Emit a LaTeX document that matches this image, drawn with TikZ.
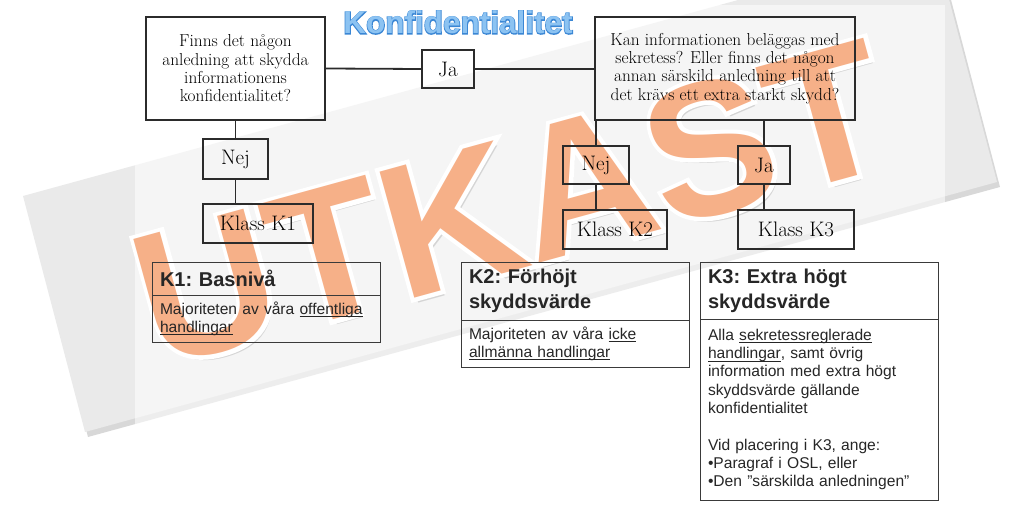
\documentclass[tikz,border=0pt]{standalone}
\usepackage{fontspec}
\newfontfamily\arialf{Liberation Sans}
\newfontfamily\wmhalo{Liberation Sans Bold}[FakeBold=4.5]
\newfontfamily\wmfill{Liberation Sans Bold}
\newfontfamily\titlehalo{Liberation Sans Bold}[FakeBold=5]
\newfontfamily\titlefillf{Liberation Sans Bold}
\definecolor{wmorange}{HTML}{F6B088}
\definecolor{titlefill}{HTML}{8CC3F2}
\definecolor{titleline}{HTML}{3A86D4}
\definecolor{boxline}{HTML}{2B2B2B}
\definecolor{infoline}{HTML}{3A3A3A}
\definecolor{bodytext}{HTML}{262626}
\definecolor{papergray}{HTML}{EAEAEA}
\newcommand{\myul}[1]{\leavevmode\vtop{\hbox{\smash{#1}}\kern2pt\hrule height0.9pt}}
\begin{document}
\begin{tikzpicture}[x=1pt,y=-1pt,
 flow/.style={draw=boxline, line width=1.8pt, inner sep=0pt, align=center, font=\fontsize{17.3}{18.3}\selectfont},
 lbl/.style={draw=boxline, line width=1.8pt, inner sep=0pt, font=\fontsize{21}{22}\selectfont},
 link/.style={draw=boxline, line width=1.8pt},
 infohead/.style={draw=infoline, line width=0.9pt, inner sep=0pt, align=left, text=bodytext, font=\arialf\bfseries\frenchspacing\fontsize{20}{25}\selectfont},
 infobody/.style={draw=infoline, line width=0.9pt, inner sep=0pt, align=left, text=bodytext, font=\arialf\frenchspacing\fontsize{15.6}{18.3}\selectfont},
 wmtext/.style={rotate=15.4, inner sep=0pt},
 wmsize/.style={font=#1\fontsize{190}{190}\selectfont},
 titletext/.style={inner sep=0pt, font=#1\fontsize{31.5}{32}\selectfont},
]
\useasboundingbox (0,0) rectangle (1013,521);
% tilted paper
\fill[black!30, opacity=0.5] (26,200) -- (88,437) -- (1000,187) -- (938,-50) -- cycle;
\fill[papergray] (23,196) -- (85,432) -- (997,182) -- (935,-54) -- cycle;
\fill[white, opacity=0.55] (135,5) rectangle (945,521);
% watermark
\node[wmtext, wmsize=\wmfill, text=black!40, opacity=0.35] (wmshadow) at (516,208) {UTKAST};
\node[wmtext, wmsize=\wmhalo, text=white] (wmhalo) at (512,203) {UTKAST};
\node[wmtext, wmsize=\wmfill, text=wmorange] (wm) at (512,203) {UTKAST};
% title
\node[titletext=\titlehalo, text=titleline] (titleoutline) at (458,22.5) {Konfidentialitet};
\node[titletext=\titlefillf, text=titlefill] (title) at (458,22.5) {Konfidentialitet};
% flow boxes
\node[flow, minimum width=179pt, minimum height=103pt] (q1) at (235.5,68.5) {Finns det någon\\anledning att skydda\\informationens\\konfidentialitet?};
\node[lbl, minimum width=52pt, minimum height=38pt] (ja1) at (448,69) {Ja};
\node[flow, minimum width=260pt, minimum height=103pt] (q2) at (725,68.5) {Kan informationen beläggas med\\sekretess? Eller finns det någon\\annan särskild anledning till att\\det krävs ett extra starkt skydd?};
\node[lbl, minimum width=65pt, minimum height=40pt] (nej1) at (235.5,159) {Nej};
\node[lbl, minimum width=110pt, minimum height=39pt] (k1) at (258,223.5) {Klass K1};
\node[lbl, minimum width=66pt, minimum height=38pt] (nej2) at (596,165) {Nej};
\node[lbl, minimum width=104pt, minimum height=39pt] (k2) at (615,229.5) {Klass K2};
\node[lbl, minimum width=52pt, minimum height=38pt] (ja2) at (764,165) {Ja};
\node[lbl, minimum width=116pt, minimum height=39pt] (k3) at (796,229.5) {Klass K3};
% connectors
\draw[link] (q1.east) -- (ja1.west);
\draw[link] (ja1.east) -- (ja1.east -| q2.west);
\draw[link] (q1.south) -- (nej1.north);
\draw[link] (nej1.south) -- (nej1.south |- k1.north);
\draw[link] (nej2.north) -- (nej2.north |- q2.south);
\draw[link] (nej2.south) -- (nej2.south |- k2.north);
\draw[link] (ja2.north) -- (ja2.north |- q2.south);
\draw[link] (ja2.south) -- (ja2.south |- k3.north);
% info boxes
\node[infohead, minimum width=228pt, minimum height=33pt, text width=212pt] (h1) at (266,278.5) {K1: Basnivå};
\node[infobody, minimum width=228pt, minimum height=47pt, text width=212pt] (b1) at (266,318.5) {Majoriteten av våra \myul{offentliga}\\\myul{handlingar}};
\node[infohead, minimum width=228pt, minimum height=58pt, text width=212pt] (h2) at (575,291) {K2: Förhöjt\\skyddsvärde};
\node[infobody, minimum width=228pt, minimum height=47pt, text width=212pt] (b2) at (575,343.5) {Majoriteten av våra \myul{icke}\\\myul{allmänna handlingar}};
\node[infohead, minimum width=238pt, minimum height=57pt, text width=222pt] (h3) at (819,290.5) {K3: Extra högt\\skyddsvärde};
\node[infobody, minimum width=238pt, minimum height=181pt, text width=222pt] (b3) at (819,409.5) {Alla \myul{sekretessreglerade}\\\myul{handlingar}, samt övrig\\information med extra högt\\skyddsvärde gällande\\konfidentialitet\\[18.3pt]Vid placering i K3, ange:\\•Paragraf i OSL, eller\\•Den ”särskilda anledningen”};
\end{tikzpicture}
\end{document}
